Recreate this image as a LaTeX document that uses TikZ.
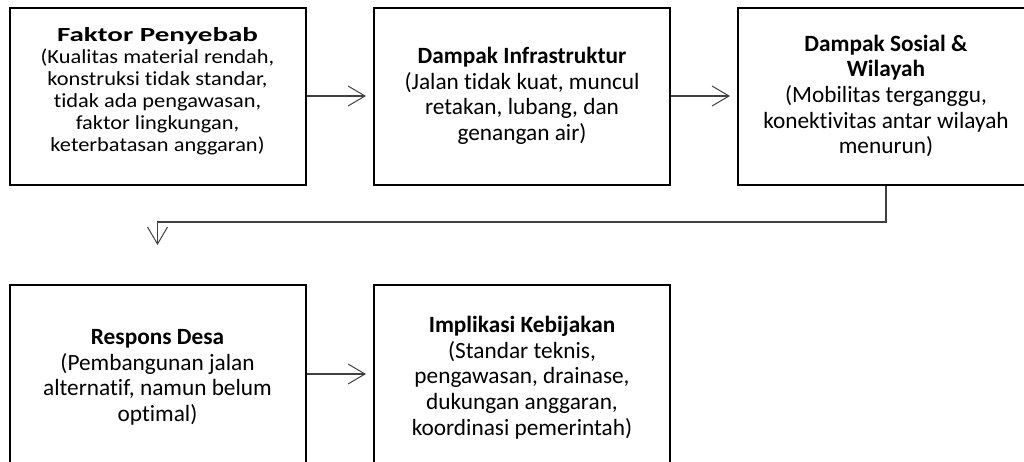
\documentclass[tikz,border=0pt]{standalone}
\usepackage{fontspec}
\setmainfont{Carlito}[Ligatures=NoCommon]
\newfontfamily\widefont{Carlito}[Ligatures=NoCommon, FakeStretch=1.12,
	BoldFeatures={FakeStretch=1.45}]
\usetikzlibrary{arrows.meta}

\begin{document}
\begin{tikzpicture}[x=1pt, y=-1pt,
	box/.style={draw, line width=2pt, minimum width=296pt, minimum height=177pt,
		inner sep=0pt, align=center, font=\fontsize{23.3}{25.6}\selectfont},
	tightbox/.style={box, text depth=14pt, font=\widefont\fontsize{20}{22}\selectfont},
	link/.style={line width=1.4pt, draw=black!75,
		-{Straight Barb[length=17pt, width=20pt, line width=1pt]}}]
\useasboundingbox (0,0) rectangle (1024,461);

% top row
\node[tightbox] (cause) at (157.5,96) {\textbf{Faktor Penyebab}\\(Kualitas material rendah,\\konstruksi tidak standar,\\tidak ada pengawasan,\\faktor lingkungan,\\keterbatasan anggaran)};
\node[box] (infra) at (522,96) {\textbf{Dampak Infrastruktur}\\(Jalan tidak kuat, muncul\\retakan, lubang, dan\\genangan air)};
\node[box] (social) at (886,96) {\textbf{Dampak Sosial \&}\\\textbf{Wilayah}\\(Mobilitas terganggu,\\konektivitas antar wilayah\\menurun)};

% bottom row (runs past the lower edge)
\node[box, minimum height=185pt] (village) at (157.5,377.5) {\textbf{Respons Desa}\\(Pembangunan jalan\\alternatif, namun belum\\optimal)};
\node[box, minimum height=185pt] (policy) at (522,377.5) {\textbf{Implikasi Kebijakan}\\(Standar teknis,\\pengawasan, drainase,\\dukungan anggaran,\\koordinasi pemerintah)};

% arrows
\draw[link, shorten >=7pt] (cause) -- (infra);
\draw[link, shorten >=7pt] (infra) -- (social);
\draw[link, shorten >=39pt] (social.south) -- ++(0,36.5) -| (village.north);
\draw[link, shorten >=7pt] (village.east |- 0,374) -- (policy.west |- 0,374);
\end{tikzpicture}
\end{document}
